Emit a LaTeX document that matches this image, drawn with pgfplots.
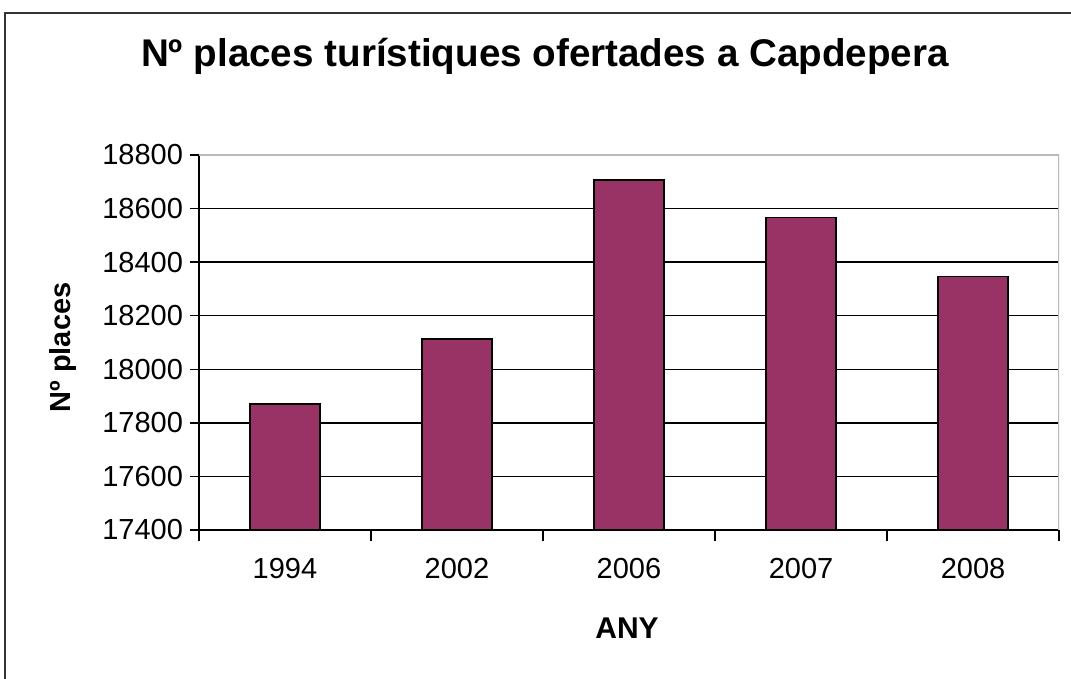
\documentclass[border=0pt]{standalone}
\usepackage{fontspec}
\setmainfont{Liberation Sans}
\usepackage{pgfplots}
\pgfplotsset{compat=1.18}
\definecolor{barplum}{HTML}{993366}
\begin{document}
\begin{tikzpicture}
\begin{axis}[
  scale only axis, width=430pt, height=187.5pt,
  xmin=-0.5, xmax=4.5, ymin=17400, ymax=18800,
  ytick={17400,17600,...,18800},
  scaled y ticks=false,
  yticklabel style={/pgf/number format/fixed, /pgf/number format/precision=0, /pgf/number format/1000 sep={}},
  xtick={0,1,2,3,4}, xticklabels={1994,2002,2006,2007,2008},
  xticklabel style={yshift=-6pt},
  minor xtick={-0.5,0.5,1.5,2.5,3.5,4.5},
  axis x line*=bottom, axis y line*=left,
  axis line style={-, black, line width=0.75pt},
  tick align=outside,
  major x tick style={draw=none},
  tick style={black, line width=0.75pt},
  major tick length=4.5pt, minor tick length=5.5pt,
  ymajorgrids, grid style={black, line width=0.75pt},
  ticklabel style={font=\fontsize{14.5}{17}\selectfont},
  /pgf/number format/assume math mode=true,
  title={Nº places turístiques ofertades a Capdepera},
  title style={at={(axis description cs:0.4023,1.2053)}, anchor=base, font=\bfseries\fontsize{19.3}{23}\selectfont},
  xlabel={ANY},
  xlabel style={at={(axis description cs:0.4977,-0.288)}, anchor=base, font=\bfseries\fontsize{15}{18}\selectfont},
  ylabel={Nº places},
  ylabel style={at={(axis description cs:-0.1587,0.4867)}, anchor=center, font=\bfseries\fontsize{14.5}{17}\selectfont},
]
\addplot[ybar, bar width=35pt, fill=barplum, draw=black, line width=0.75pt]
  coordinates {(0,17870) (1,18113) (2,18707) (3,18567) (4,18346)};
\draw[gray!55, line width=0.75pt] (rel axis cs:0,1) -- (rel axis cs:1,1) -- (rel axis cs:1,0);
\coordinate (BL) at (rel axis cs:-0.2314,-0.3973);
\coordinate (TR) at (rel axis cs:1.01395,1.4133);
\coordinate (FB) at (rel axis cs:-0.2256,-0.5);
\coordinate (FT) at (rel axis cs:-0.2256,1.3787);
\coordinate (FR) at (rel axis cs:1.1,1.3787);
\end{axis}
\draw[black!80, line width=1.1pt] (FB) -- (FT) -- (FR);
\pgfresetboundingbox
\useasboundingbox (BL) rectangle (TR);
\end{tikzpicture}
\end{document}
